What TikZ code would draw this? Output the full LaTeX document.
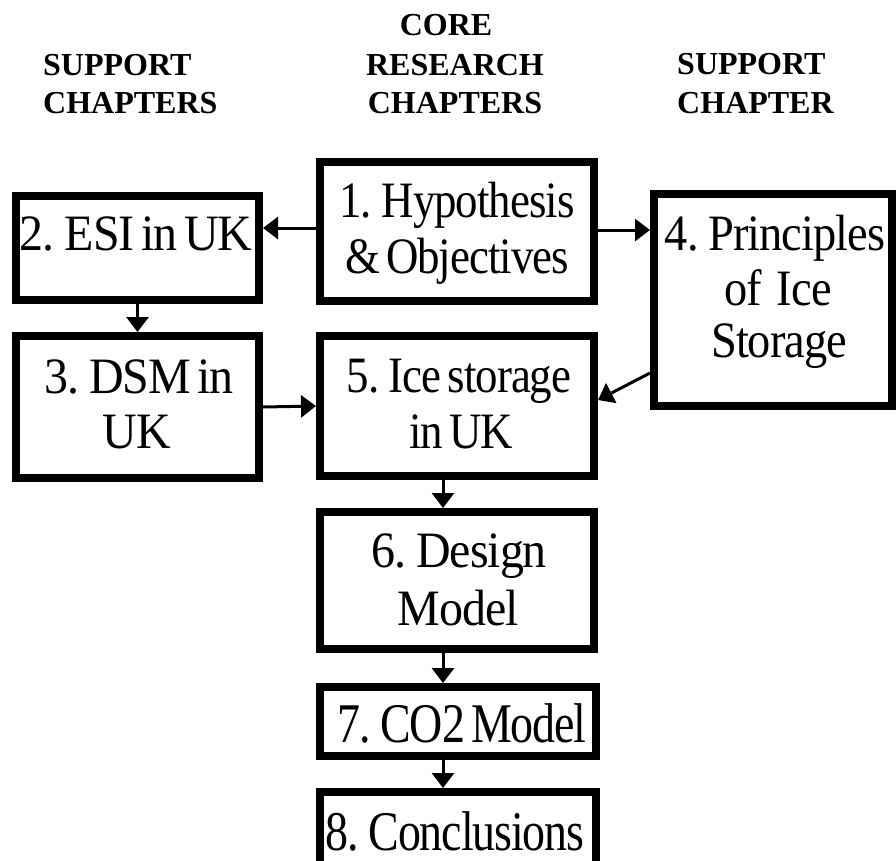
\documentclass[tikz,border=0pt]{standalone}
\usepackage{fontspec}
\setmainfont{Liberation Serif}
\newfontfamily\boxfont[FakeStretch=0.88,WordSpace=0.6,LetterSpace=-2]{Liberation Serif}
\newfontfamily\boxfontw[FakeStretch=0.94,WordSpace=0.6,LetterSpace=-2]{Liberation Serif}
\newfontfamily\boxfontm[FakeStretch=0.91,WordSpace=0.6,LetterSpace=-2]{Liberation Serif}
\newfontfamily\boxfontn[FakeStretch=0.82,WordSpace=0.6,LetterSpace=-2]{Liberation Serif}
\usetikzlibrary{arrows.meta}
\begin{document}
\begin{tikzpicture}[x=1pt,y=-1pt,
  box/.style={draw, line width=8pt, rectangle, outer sep=4pt, inner sep=0pt},
  arr/.style={line width=3pt, -{Triangle[length=15pt,width=22pt]}},
  txt/.style={anchor=base, inner sep=0pt, font=\boxfont\fontsize{51}{51}\selectfont},
  txtw/.style={anchor=base, inner sep=0pt, font=\boxfontw\fontsize{51}{51}\selectfont},
  txtm/.style={anchor=base, inner sep=0pt, font=\boxfontm\fontsize{51}{51}\selectfont},
  txtl/.style={anchor=base, inner sep=0pt, font=\boxfontn\fontsize{56}{56}\selectfont},
  headl/.style={anchor=base west, inner sep=0pt, font=\fontsize{32}{32}\selectfont\bfseries},
  headc/.style={anchor=base, inner sep=0pt, font=\fontsize{32}{32}\selectfont\bfseries}]
\path[use as bounding box, fill=white] (0,0) rectangle (896,860);

% headers
\node[headl] (hl1) at (43,75) {SUPPORT};
\node[headl] (hl2) at (43,113) {CHAPTERS};
\node[headc] (hc1) at (446,35) {CORE};
\node[headc] (hc2) at (455,75) {RESEARCH};
\node[headc] (hc3) at (455,113) {CHAPTERS};
\node[headl] (hr1) at (677,74) {SUPPORT};
\node[headl] (hr2) at (677,113) {CHAPTER};

% boxes
\node[box, minimum width=274pt, minimum height=139pt] (b1) at (457,231.5) {};
\node[box, minimum width=243pt, minimum height=104pt] (b2) at (137.5,248) {};
\node[box, minimum width=243pt, minimum height=142pt] (b3) at (137.5,407) {};
\node[box, minimum width=238pt, minimum height=212pt] (b4) at (773,300) {};
\node[box, minimum width=274pt, minimum height=140pt] (b5) at (457,406) {};
\node[box, minimum width=274pt, minimum height=137pt] (b6) at (457,580.5) {};
\node[box, minimum width=276pt, minimum height=69pt] (b7) at (458,721.5) {};
\node[box, minimum width=276pt, minimum height=74pt] (b8) at (458,829) {};

% texts
\node[txt] (t1a) at (457,217) {1. Hypothesis};
\node[txt] (t1b) at (457,273) {\& Objectives};
\node[txtw] (t2) at (136,250) {2. ESI in UK};
\node[txtw] (t3a) at (139,393) {3. DSM in};
\node[txtw] (t3b) at (137,448) {UK};
\node[txtm] (t4a) at (775,250) {4. Principles};
\node[txtm] (t4b) at (778,305) {of\, Ice};
\node[txtm] (t4c) at (779,357) {Storage};
\node[txt] (t5a) at (459,392) {5. Ice storage};
\node[txt] (t5b) at (461,448) {in UK};
\node[txtw] (t6a) at (459,567) {6. Design};
\node[txtw] (t6b) at (458,625) {Model};
\node[txtl] (t7) at (462,742) {7. CO2 Model};
\node[txtl] (t8) at (455,850) {8. Conclusions};

% connectors
\coordinate (y12) at (0,228);
\coordinate (y14) at (0,230);
\coordinate (y45a) at (0,373);
\coordinate (y45b) at (0,400);
\coordinate (xc) at (443,0);
\draw[arr] (b1.west |- y12) -- (b2.east |- y12);
\draw[arr] (b1.east |- y14) -- (b4.west |- y14);
\draw[arr] (b2.south) -- (b3.north);
\draw[arr] (b3.east) -- (b5.west);
\draw[arr] (b4.west |- y45a) -- (b5.east |- y45b);
\draw[arr] (b5.south -| xc) -- (b6.north -| xc);
\draw[arr] (b6.south -| xc) -- (b7.north -| xc);
\draw[arr] (b7.south -| xc) -- (b8.north -| xc);
\end{tikzpicture}
\end{document}
